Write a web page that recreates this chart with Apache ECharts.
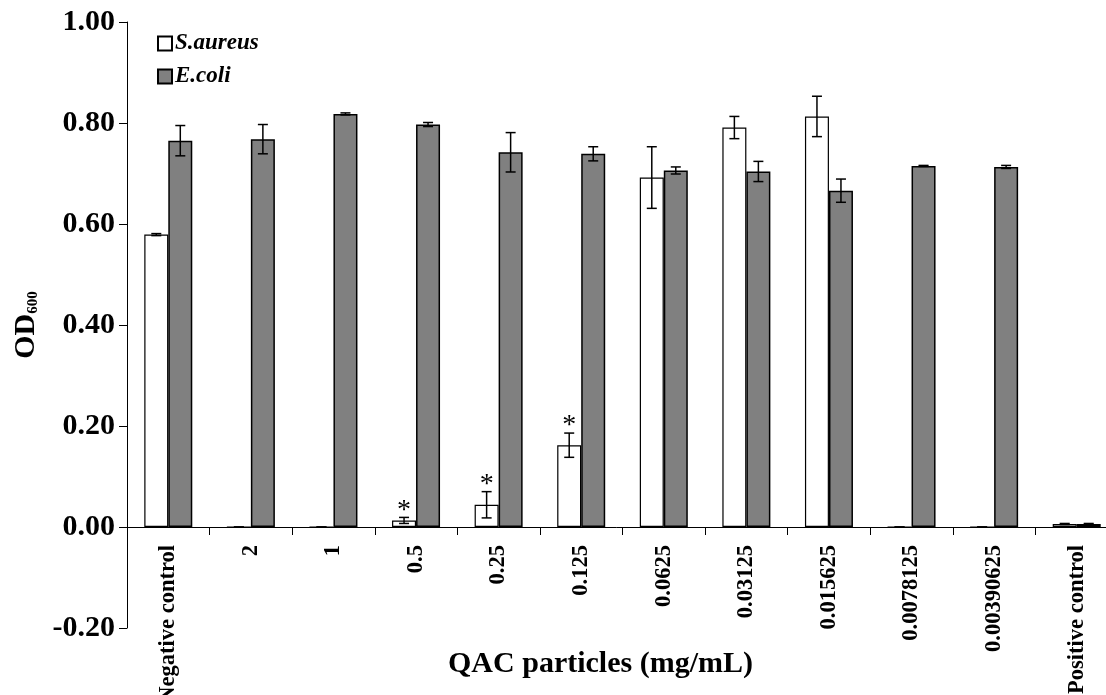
<!DOCTYPE html>
<html>
<head>
<meta charset="utf-8">
<script src="https://cdn.jsdelivr.net/npm/echarts@6/dist/echarts.min.js"></script>
<style>
html,body{margin:0;padding:0;background:#fff;}
#chart{width:1106px;height:695px;}
</style>
</head>
<body>
<div id="chart"></div>
<script>
// ---- data ----
const categories = ['Negative control','2','1','0.5','0.25','0.125','0.0625','0.03125','0.015625','0.0078125','0.00390625','Positive control'];
const saureus    = [0.579, 0, 0, 0.013, 0.044, 0.162, 0.692, 0.791, 0.813, 0, 0, 0.006];
const saureusErr = [0.002, 0, 0, 0.006, 0.026, 0.024, 0.061, 0.022, 0.040, 0, 0, 0.001];
const ecoli      = [0.765, 0.768, 0.818, 0.797, 0.742, 0.739, 0.706, 0.704, 0.666, 0.715, 0.713, 0.006];
const ecoliErr   = [0.030, 0.029, 0.002, 0.004, 0.039, 0.014, 0.007, 0.020, 0.023, 0.001, 0.003, 0.001];
const saureusSignificant = [0, 0, 0, 1, 1, 1, 0, 0, 0, 0, 0, 0];
const seriesNames = ['S.aureus', 'E.coli'];
const yMin = -0.2, yMax = 1.0, yStep = 0.2;

// ---- styling / layout ----
const FONT = 'Liberation Serif';
const BAR_W = 24;
const GRID = { left: 127, right: -12, top: 22, bottom: 67 };
const plotH = 695 - GRID.top - GRID.bottom;
// x axis drawn at y = 0 (lifted from the grid bottom by the span yMin..0)
const xAxisLift = -plotH * (0 - yMin) / (yMax - yMin);

function errorRender(sign) {
  return function (params, api) {
    const i = api.value(0), v = api.value(1), e = api.value(2), star = api.value(3);
    const hi = api.coord([i, v + e]);
    const lo = api.coord([i, v - e]);
    const cx = hi[0] + sign * BAR_W / 2;
    const cap = 5;
    const st = { stroke: '#000', lineWidth: 1.5 };
    const children = [
      { type: 'line', shape: { x1: cx, y1: hi[1], x2: cx, y2: lo[1] }, style: st },
      { type: 'line', shape: { x1: cx - cap, y1: hi[1], x2: cx + cap, y2: hi[1] }, style: st },
      { type: 'line', shape: { x1: cx - cap, y1: lo[1], x2: cx + cap, y2: lo[1] }, style: st }
    ];
    if (star) {
      children.push({ type: 'text', style: { text: '*', x: cx, y: hi[1] - 7, align: 'center', verticalAlign: 'middle', font: '28px "' + FONT + '"', fill: '#000' } });
    }
    return { type: 'group', children: children };
  };
}

const chart = echarts.init(document.getElementById('chart'), null, { renderer: 'canvas' });
chart.setOption({
  animation: false,
  backgroundColor: '#fff',
  textStyle: { fontFamily: FONT },
  grid: Object.assign({ containLabel: false, outerBoundsMode: 'none' }, GRID),
  legend: {
    data: [{ name: seriesNames[0] }, { name: seriesNames[1] }],
    orient: 'vertical', left: 152, top: 27,
    icon: 'rect', itemWidth: 14, itemHeight: 14, itemGap: 10,
    textStyle: { fontFamily: FONT, fontSize: 23, fontWeight: 'bold', fontStyle: 'italic', color: '#000', padding: [0, 0, 0, -2] }
  },
  xAxis: {
    type: 'category', data: categories, offset: xAxisLift,
    axisLine: { onZero: false, lineStyle: { color: '#000', width: 1 } },
    axisTick: { show: true, length: 8, alignWithLabel: false, lineStyle: { color: '#000' } },
    axisLabel: { rotate: 90, interval: 0, margin: 18, fontFamily: FONT, fontSize: 22.5, fontWeight: 'bold', color: '#000', hideOverlap: false },
    name: 'QAC particles (mg/mL)', nameLocation: 'middle', nameGap: 122, nameMoveOverlap: false,
    nameTextStyle: { fontFamily: FONT, fontSize: 30, fontWeight: 'bold', color: '#000', padding: [0, 44, 0, 0] },
    splitLine: { show: false }
  },
  yAxis: {
    type: 'value', min: yMin, max: yMax, interval: yStep,
    axisLine: { show: true, lineStyle: { color: '#000', width: 1 } },
    axisTick: { show: true, length: 8, lineStyle: { color: '#000' } },
    axisLabel: { margin: 12, fontFamily: FONT, fontSize: 30, fontWeight: 'bold', color: '#000', formatter: v => v.toFixed(2) },
    splitLine: { show: false },
    name: '{a|OD}{b|600}', nameLocation: 'middle', nameGap: 86, nameRotate: 90, nameMoveOverlap: false,
    nameTextStyle: {
      rich: {
        a: { fontFamily: FONT, fontSize: 30, fontWeight: 'bold', color: '#000' },
        b: { fontFamily: FONT, fontSize: 15, fontWeight: 'bold', color: '#000', padding: [14, 0, 0, 0] }
      }
    }
  },
  series: [
    {
      name: seriesNames[0], type: 'bar', data: saureus, barWidth: BAR_W, barGap: '0%',
      itemStyle: { color: '#ffffff', borderColor: '#000', borderWidth: 1.2 }
    },
    {
      name: seriesNames[1], type: 'bar', data: ecoli, barWidth: BAR_W, barGap: '0%',
      itemStyle: { color: '#808080', borderColor: '#000', borderWidth: 1.5 }
    },
    {
      type: 'custom', renderItem: errorRender(-1), z: 5,
      data: saureus.map((v, i) => [i, v, saureusErr[i], saureusSignificant[i]])
    },
    {
      type: 'custom', renderItem: errorRender(1), z: 5,
      data: ecoli.map((v, i) => [i, v, ecoliErr[i], 0])
    }
  ]
});
</script>
</body>
</html>
